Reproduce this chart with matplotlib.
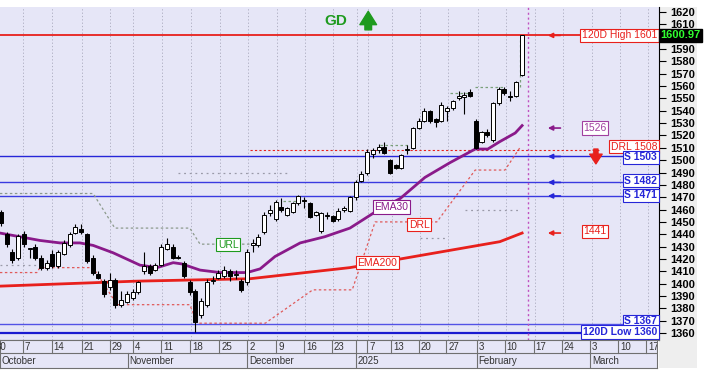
import matplotlib
matplotlib.use("Agg")
import matplotlib.pyplot as plt
from matplotlib.patches import Rectangle

plt.rcParams['font.family'] = ['Liberation Sans', 'DejaVu Sans']

# --- daily candles (x = trading-day index) ---
opens = [1458, 1440, 1426, 1421, 1440, 1428, 1430, 1421, 1413, 1424,
         1414, 1424, 1431, 1441, 1444, 1440, 1421, 1408, 1402, 1397,
         1403, 1383, 1385, 1388, 1393, 1410, 1414, 1411, 1415, 1428,
         1430, 1422, 1417, 1401, 1394, 1375, 1383, 1402, 1405, 1406,
         1410, 1407, 1402, 1401, 1431, 1431, 1442, 1457, 1452, 1462,
         1456, 1458, 1465, 1468, 1465, 1456, 1443, 1455, 1455, 1452,
         1460, 1459, 1470, 1483, 1490, 1505, 1508, 1511, 1500, 1496,
         1494, 1508, 1510, 1526, 1532, 1540, 1533, 1532, 1540, 1542,
         1550, 1551, 1555, 1532, 1515, 1523, 1516, 1546, 1558, 1552,
         1552, 1569]
highs = [1460, 1442, 1428, 1440, 1443, 1429, 1432, 1423, 1419, 1427,
         1427, 1435, 1442, 1448, 1448, 1441, 1423, 1410, 1404, 1409,
         1405, 1394, 1394, 1396, 1402, 1426, 1416, 1417, 1432, 1437,
         1432, 1423, 1418, 1403, 1396, 1388, 1404, 1406, 1411, 1414,
         1412, 1411, 1404, 1428, 1436, 1440, 1458, 1464, 1468, 1469,
         1462, 1466, 1472, 1470, 1466, 1459, 1458, 1458, 1456, 1461,
         1463, 1471, 1484, 1491, 1509, 1510, 1513, 1515, 1501, 1497,
         1505, 1512, 1527, 1534, 1542, 1541, 1534, 1547, 1544, 1549,
         1556, 1555, 1558, 1533, 1524, 1525, 1547, 1559, 1559, 1556,
         1564, 1601]
lows = [1447, 1430, 1417, 1419, 1430, 1421, 1419, 1411, 1411, 1413,
        1413, 1423, 1430, 1440, 1440, 1417, 1407, 1404, 1389, 1395,
        1380, 1381, 1384, 1387, 1392, 1408, 1407, 1410, 1414, 1427,
        1420, 1420, 1405, 1391, 1361, 1372, 1381, 1400, 1404, 1405,
        1402, 1404, 1393, 1399, 1426, 1430, 1440, 1455, 1451, 1458,
        1455, 1457, 1464, 1461, 1453, 1455, 1441, 1452, 1450, 1451,
        1458, 1458, 1468, 1482, 1488, 1502, 1506, 1505, 1489, 1493,
        1493, 1505, 1509, 1525, 1531, 1530, 1527, 1531, 1532, 1541,
        1549, 1537, 1551, 1509, 1514, 1519, 1515, 1545, 1553, 1548,
        1551, 1568]
closes = [1449, 1432, 1419, 1439, 1432, 1429, 1421, 1413, 1417, 1414,
          1426, 1433, 1440, 1446, 1442, 1418, 1409, 1405, 1392, 1403,
          1383, 1387, 1392, 1393, 1401, 1414, 1409, 1415, 1430, 1432,
          1421, 1421, 1406, 1393, 1369, 1386, 1401, 1403, 1409, 1411,
          1406, 1408, 1395, 1426, 1433, 1438, 1456, 1460, 1466, 1460,
          1461, 1465, 1471, 1467, 1454, 1458, 1457, 1456, 1451, 1459,
          1461, 1470, 1482, 1489, 1507, 1508, 1511, 1506, 1490, 1494,
          1504, 1509, 1526, 1532, 1540, 1532, 1531, 1545, 1542, 1548,
          1552, 1553, 1552, 1510, 1523, 1520, 1546, 1558, 1554, 1551,
          1563, 1601]

# moving averages
ema30_x = [-0.2, 3.3, 6.8, 10.3, 13.8, 16.1, 19.6, 24.3, 27.3, 30.1, 31.6, 34.8,
           38.3, 43.0, 45.3, 47.9, 52.3, 56.6, 61.0, 65.4, 69.8, 74.1, 78.5,
           82.9, 85.1, 87.2, 89.9, 91.1]
ema30_y = [1441, 1438, 1435, 1433, 1433, 1431, 1425, 1415, 1413, 1417, 1416, 1411,
           1409, 1409, 1412, 1422, 1433, 1438, 1445, 1458, 1469, 1486, 1498,
           1509, 1509, 1515, 1522, 1528]
ema200_x = [-0.2, 23.4, 43.5, 61.0, 69.8, 78.5, 87.2, 91.1]
ema200_y = [1398, 1402, 1404, 1413, 1420, 1427, 1434, 1441]

# trailing lines
url_x = [-0.2, 16.1, 19.9, 33.0, 34.8, 43.5]
url_y = [1473, 1473, 1445, 1445, 1432, 1432]
url_segs = [([49.3, 52.8], [1467, 1467]), ([66.3, 71.5], [1512, 1512]),
            ([78.5, 82.0], [1554, 1554]), ([82.9, 88.1], [1559, 1559]),
            ([90.7, 90.7], [1559, 1597])]
drl_x = [-0.2, 6.3, 6.8, 16.1, 20.3, 33.0, 34.3, 46.2, 54.5, 61.4, 65.4, 76.2,
         82.9, 88.1, 90.7]
drl_y = [1409, 1409, 1413, 1413, 1383, 1383, 1368, 1368, 1395, 1395, 1450, 1450,
         1492, 1492, 1510]
faint_segs = [([-0.2, 6.8], [1415, 1415]), ([31.0, 50.5], [1490, 1490]),
              ([73.3, 77.7], [1437, 1437]), ([81.2, 90.7], [1460, 1460])]

# horizontal levels
support_levels = [1503, 1482, 1471, 1367]
high_120d = 1601
low_120d = 1360
drl_level = 1508
last_close = 1600.97

# date axis
tick_pos = [-1.2, 3.85, 8.9, 14.2, 19.1, 23.1, 28.1, 33.2, 38.3, 43.2, 48.3, 53.1,
            58.0, 62.2, 64.2, 68.4, 73.3, 78.1, 83.4, 88.3, 93.4, 98.3, 103.3,
            108.2, 113.1]
tick_lab = ['30', '7', '14', '21', '29', '4', '11', '18', '25', '2', '9', '16',
            '23', '', '7', '13', '20', '27', '3', '10', '17', '24', '3', '10', '17']
month_pos = [-0.3, 22.2, 43.2, 62.2, 83.4, 103.3]
month_lab = ['October', 'November', 'December', '2025', 'February', 'March']

BG = '#e6e6f7'
RED = '#e8201c'
BLUE = '#2626d8'
PURPLE = '#8a1a8a'
GREEN = '#1e9a1e'

W, H = 705, 377
fig = plt.figure(figsize=(W / 100, H / 100), dpi=100)
fig.patches.append(Rectangle((659 / W, 9 / H), 38 / W, 361 / H, transform=fig.transFigure,
                             facecolor='#eeeeee', edgecolor='none', zorder=-1))

ax = fig.add_axes([0, 37 / H, 659 / W, 333 / H])
ax.set_facecolor(BG)
XL = (-0.175, 115.03)
ax.set_xlim(*XL)
ax.set_ylim(1354.4, 1624)

for x in tick_pos[1:]:
    ax.axvline(x, color='#a8a8bc', lw=0.6, ls=(0, (1.5, 2.5)), zorder=1)

# horizontal lines
ax.axhline(high_120d, color=RED, lw=1.3, zorder=2)
for lv, c in zip(support_levels, [BLUE, '#3a3ae0', '#3a3ae0', '#5252e6']):
    ax.axhline(lv, color=c, lw=1.0, zorder=2)
ax.axhline(low_120d, color='#1a1ad0', lw=1.6, zorder=2)
ax.plot([43.5, 104.5], [drl_level, drl_level], color=RED, lw=0.8, ls=(0, (2, 2)), zorder=2)

# trailing lines
ax.plot(url_x, url_y, color='#8c9a8c', lw=0.9, ls=(0, (2, 2)), zorder=2)
for sx, sy in url_segs:
    ax.plot(sx, sy, color='#7aa07a', lw=0.9, ls=(0, (2, 2)), zorder=2)
ax.plot(drl_x, drl_y, color='#e05a5a', lw=0.9, ls=(0, (2, 2)), zorder=2)
for sx, sy in faint_segs:
    ax.plot(sx, sy, color='#9a9aa8', lw=0.9, ls=(0, (1.5, 3)), zorder=2)

ax.plot(ema200_x, ema200_y, color=RED, lw=2.0, zorder=3)
ax.plot(ema30_x, ema30_y, color=PURPLE, lw=2.0, zorder=3)

# candles
xs = list(range(len(opens)))
for i in xs:
    o, h, l, c = opens[i], highs[i], lows[i], closes[i]
    ax.vlines(i, l, h, color='black', lw=0.8, zorder=4)
    up = c >= o
    ax.bar(i, max(abs(c - o), 0.4), bottom=min(o, c), width=0.7,
           color='white' if up else 'black', edgecolor='black', lw=0.7, zorder=5)

ax.axvline(92.1, color='#c050c0', lw=1.0, ls=(0, (1.5, 2)), zorder=2)


def box(x, y, s, color, ha='left', bold=False, size=7.5):
    ax.text(x, y, s, color=color, ha=ha, va='center', fontsize=size,
            fontweight='bold' if bold else 'normal', zorder=8,
            bbox=dict(boxstyle='square,pad=0.15', fc='white', ec=color, lw=0.8))


box(114.7, 1601, '120D High 1601', RED, ha='right')
box(103.8, 1526, '1526', '#a040a0', ha='center')
box(114.7, 1511.0, 'DRL 1508', RED, ha='right')
box(114.7, 1502.4, 'S 1503', BLUE, ha='right', bold=True)
box(114.7, 1483.4, 'S 1482', BLUE, ha='right', bold=True)
box(114.7, 1471.4, 'S 1471', BLUE, ha='right', bold=True)
box(103.8, 1442.3, '1441', RED, ha='center')
box(114.7, 1369.6, 'S 1367', BLUE, ha='right', bold=True)
box(114.7, 1360.9, '120D Low 1360', BLUE, ha='right', bold=True)

box(65.3, 1462.1, 'EMA30', PURPLE, ha='left')
box(71.3, 1447.6, 'DRL', RED, ha='left')
box(62.3, 1417.0, 'EMA200', RED, ha='left')
box(37.9, 1431.5, 'URL', GREEN, ha='left')

# arrows on the right
for yv, c in [(1601, RED), (1526, PURPLE), (1503, BLUE), (1482, BLUE),
              (1471, BLUE), (1441, RED)]:
    ax.annotate('', xy=(95.6, yv), xytext=(97.8, yv),
                arrowprops=dict(arrowstyle='-|>', color=c, lw=1.2, mutation_scale=7,
                                shrinkA=0, shrinkB=0), zorder=7)
ax.annotate('', xy=(104.0, 1497), xytext=(104.0, 1509),
            arrowprops=dict(arrowstyle='simple,head_width=0.9,head_length=0.7,tail_width=0.3',
                            color=RED, mutation_scale=10, shrinkA=0, shrinkB=0))

ax.text(58.6, 1612.3, 'GD', color=GREEN, fontsize=11, fontweight='bold',
        ha='center', va='center')
ax.annotate('', xy=(64.2, 1620.5), xytext=(64.2, 1605.5),
            arrowprops=dict(arrowstyle='simple,head_width=1.0,head_length=0.8,tail_width=0.4',
                            color=GREEN, mutation_scale=12, shrinkA=0, shrinkB=0))

# right price axis
ax.yaxis.tick_right()
ax.set_yticks(range(1360, 1621, 10))
ax.tick_params(axis='y', length=5, width=0.8, pad=3, labelsize=8, colors='black')
for t in ax.get_yticklabels():
    t.set_fontweight('bold')
ax.set_xticks([])
for s in ['left', 'top']:
    ax.spines[s].set_visible(False)
ax.spines['right'].set_color('black')
ax.spines['bottom'].set_color('#707070')

ax.text(1.002, last_close, f'{last_close:.2f}', transform=ax.get_yaxis_transform(),
        color='#30ff30', fontsize=8, fontweight='bold', va='center', ha='left',
        bbox=dict(boxstyle='square,pad=0.12', fc='black', ec='black'), clip_on=False, zorder=9)

# date axis (two rows)
axd = fig.add_axes([0, 9 / H, 657 / W, 28 / H])
axd.set_facecolor(BG)
axd.set_xlim(*XL)
axd.set_ylim(0, 28)
axd.set_xticks([])
axd.set_yticks([])
for s in axd.spines.values():
    s.set_color('#707070')
    s.set_linewidth(0.8)
axd.axhline(15, color='#707070', lw=0.8)
for x, lab in zip(tick_pos, tick_lab):
    axd.plot([x, x], [15, 28], color='#707070', lw=0.8)
    axd.text(x + 0.35, 21.5, lab, fontsize=7, color='#333333', va='center', ha='left',
             clip_on=True)
for x, lab in zip(month_pos, month_lab):
    axd.plot([x, x], [0, 15], color='#707070', lw=0.8)
    axd.text(x + 0.35, 7.5, lab, fontsize=7, color='#333333', va='center', ha='left',
             clip_on=True)

fig.savefig('out.png', dpi=100)
